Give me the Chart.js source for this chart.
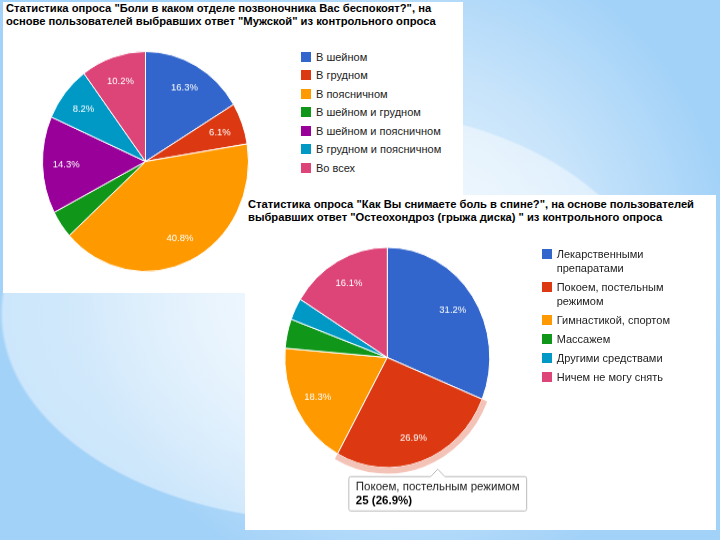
<!DOCTYPE html>
<html lang="ru">
<head>
<meta charset="utf-8">
<title>Статистика опроса</title>
<script src="https://cdn.jsdelivr.net/npm/chart.js@4.4.1/dist/chart.umd.min.js"></script>
<style>
  html, body { margin: 0; padding: 0; }
  body {
    width: 720px; height: 540px; overflow: hidden; position: relative;
    font-family: "Liberation Sans", Arial, sans-serif;
    background:
      radial-gradient(330px 208px at 330px 314px, rgba(255,255,255,.7) 0%, rgba(255,255,255,.45) 99%, rgba(255,255,255,0) 100%),
      radial-gradient(circle at 400px 260px, rgba(255,255,255,.75) 0, rgba(255,255,255,.4) 190px, rgba(255,255,255,0) 330px),
      #a3d2f8;
  }
  .panel { position: absolute; background: #fff; }
  #p1 { left: 3px; top: 2px; width: 460px; height: 291px; }
  #p2 { left: 245px; top: 195px; width: 471px; height: 335px; }
  .title {
    position: absolute; left: 3px; font-weight: bold; font-size: 11.2px;
    line-height: 13px; color: #000; white-space: nowrap;
  }
  #p1 .title { top: 0; }
  #p2 .title { top: 2.5px; }
  canvas { position: absolute; }
  /* the slide stretched the screenshots a little vertically */
  #c1 { left: 39px; top: 55.5px; transform: scaleY(1.068); }
  #c2 { left: 0; top: 40px; transform-origin: 142.3px 122.5px; transform: scaleY(1.075); }
  .legend { position: absolute; margin: 0; padding: 0; list-style: none; font-size: 11px; color: #222; }
  .legend li { display: flex; align-items: flex-start; line-height: 14px; }
  .legend .sw { flex: none; width: 10px; height: 10px; margin: 2px 5px 0 0; }
  #lg1 { left: 298px; top: 47.7px; }
  #lg1 li { margin-bottom: 4.55px; white-space: nowrap; }
  #lg2 { left: 296.7px; top: 52px; width: 145px; }
  #lg2 li { margin-bottom: 5px; }
  #lg2 li span.tx { width: 128px; }
</style>
</head>
<body>
<div class="panel" id="p1">
  <div class="title">Статистика опроса "Боли в каком отделе позвоночника Вас беспокоят?", на<br>основе пользователей выбравших ответ "Мужской" из контрольного опроса</div>
  <canvas id="c1" width="207" height="207"></canvas>
  <ul class="legend" id="lg1"></ul>
</div>
<div class="panel" id="p2">
  <div class="title">Статистика опроса "Как Вы снимаете боль в спине?", на основе пользователей<br>выбравших ответ "Остеохондроз (грыжа диска) " из контрольного опроса</div>
  <canvas id="c2" width="300" height="285"></canvas>
  <ul class="legend" id="lg2"></ul>
</div>
<script>
/* ─── DATA ─── */
const spineLabels = ['В шейном', 'В грудном', 'В поясничном', 'В шейном и грудном',
  'В шейном и поясничном', 'В грудном и поясничном', 'Во всех'];
const spineCounts = [8, 3, 20, 2, 7, 4, 5];
const spineColors = ['#3366cc', '#dc3912', '#ff9900', '#109618', '#990099', '#0099c6', '#dd4477'];

const reliefLabels = ['Лекарственными препаратами', 'Покоем, постельным режимом', 'Гимнастикой, спортом',
  'Массажем', 'Другими средствами', 'Ничем не могу снять'];
const reliefCounts = [29, 25, 17, 4, 3, 15];
const reliefColors = ['#3366cc', '#dc3912', '#ff9900', '#109618', '#0099c6', '#dd4477'];
const reliefSelected = 1;   // slice with the hover ring + tooltip

const FONT = '"Liberation Sans", Arial, sans-serif';
const sum = arr => arr.reduce((s, v) => s + v, 0);

/* ─── HTML legends ─── */
function buildLegend(id, labels, colors) {
  const ul = document.getElementById(id);
  labels.forEach((lab, i) => {
    const li = document.createElement('li');
    li.innerHTML = `<span class="sw" style="background:${colors[i]}"></span><span class="tx">${lab}</span>`;
    ul.appendChild(li);
  });
}
buildLegend('lg1', spineLabels, spineColors);
buildLegend('lg2', reliefLabels, reliefColors);

/* ─── percent text inside slices (>= 5%) ─── */
const pctLabels = {
  id: 'pctLabels',
  afterDatasetsDraw(chart) {
    const ctx = chart.ctx;
    chart.data.datasets.forEach((ds, di) => {
      if (!ds.main) return;
      const total = sum(ds.data);
      chart.getDatasetMeta(di).data.forEach((arc, i) => {
        const share = ds.data[i] / total * 100;
        if (share < 5) return;
        const { x, y, startAngle, endAngle, outerRadius } =
          arc.getProps(['x', 'y', 'startAngle', 'endAngle', 'outerRadius'], true);
        const mid = (startAngle + endAngle) / 2;
        const r = outerRadius * 0.77;
        ctx.save();
        ctx.font = `9.5px ${FONT}`;
        ctx.fillStyle = '#fff';
        ctx.textAlign = 'center';
        ctx.textBaseline = 'middle';
        ctx.fillText(share.toFixed(1) + '%', x + Math.cos(mid) * r, y + Math.sin(mid) * r);
        ctx.restore();
      });
    });
  }
};

/* tooltip pinned just under the selected slice's outer edge */
Chart.Tooltip.positioners.belowSlice = function (items) {
  if (!items.length) return false;
  const arc = items[0].element;
  const ring = this.chart.getDatasetMeta(0).data[items[0].index];
  const mid = (arc.startAngle + arc.endAngle) / 2;
  const r = (ring ? ring.outerRadius : arc.outerRadius) + 2;
  return { x: arc.x + Math.cos(mid) * r + 14, y: arc.y + Math.sin(mid) * r };
};

const sliceStyle = colors => ({
  backgroundColor: colors,
  hoverBackgroundColor: colors,
  borderColor: '#fff',
  hoverBorderColor: '#fff',
  borderWidth: 1,
  hoverBorderWidth: 1,
  hoverOffset: 0,
});

/* ─── 1. SPINE PAIN ─── */
new Chart(document.getElementById('c1'), {
  type: 'pie',
  data: {
    labels: spineLabels,
    datasets: [{ data: spineCounts, main: true, ...sliceStyle(spineColors) }]
  },
  options: {
    responsive: false,
    animation: false,
    events: [],
    layout: { padding: 0 },
    plugins: { legend: { display: false }, tooltip: { enabled: false } }
  },
  plugins: [pctLabels]
});

/* ─── 2. PAIN RELIEF ─── */
const reliefTotal = sum(reliefCounts);
const ringColors = reliefColors.map((c, i) => i === reliefSelected ? 'rgba(220,57,18,0.3)' : 'rgba(0,0,0,0)');

const chart2 = new Chart(document.getElementById('c2'), {
  type: 'pie',
  data: {
    labels: reliefLabels,
    datasets: [
      {
        data: reliefCounts, weight: 0.054,
        backgroundColor: ringColors, hoverBackgroundColor: ringColors,
        borderWidth: 0, hoverBorderWidth: 0, hoverOffset: 0
      },
      { data: reliefCounts, main: true, ...sliceStyle(reliefColors) }
    ]
  },
  options: {
    responsive: false,
    animation: false,
    events: [],
    layout: { padding: { left: 34.3, top: 14.5, right: 49.7, bottom: 54.5 } },
    plugins: {
      legend: { display: false },
      tooltip: {
        position: 'belowSlice',
        xAlign: 'center',
        yAlign: 'top',
        backgroundColor: '#fff',
        borderColor: '#bbb',
        borderWidth: 1,
        cornerRadius: 2,
        caretSize: 7,
        caretPadding: 0,
        displayColors: false,
        titleColor: '#222',
        bodyColor: '#000',
        titleFont: { family: FONT, size: 11.5, weight: 'normal', lineHeight: 1 },
        bodyFont: { family: FONT, size: 11.5, weight: 'bold', lineHeight: 1 },
        titleMarginBottom: 1,
        padding: { x: 7, y: 4 },
        filter: item => item.datasetIndex === 1,
        callbacks: {
          title: items => items[0].label,
          label: item => `${item.raw} (${(item.raw / reliefTotal * 100).toFixed(1)}%)`
        }
      }
    }
  },
  plugins: [pctLabels]
});

const active = [{ datasetIndex: 1, index: reliefSelected }];
chart2.setActiveElements(active);
chart2.tooltip.setActiveElements(active, { x: 0, y: 0 });
chart2.update();
</script>
</body>
</html>
